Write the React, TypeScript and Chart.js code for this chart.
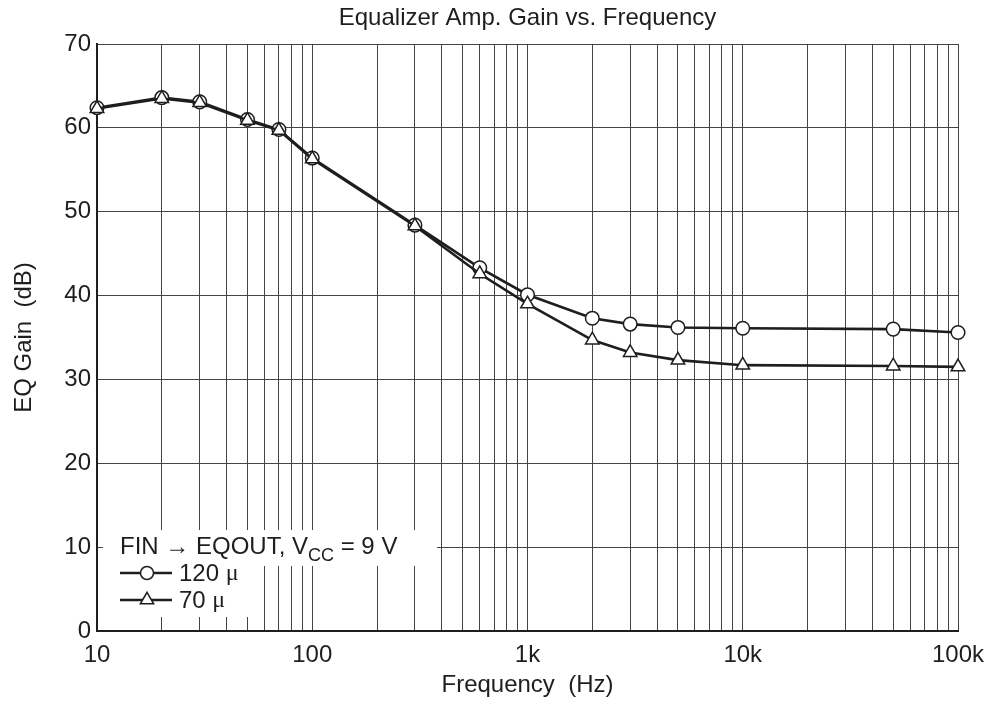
import React, { useEffect, useRef } from 'react';
import { Chart, registerables } from 'chart.js';

Chart.register(...registerables);

const chartTitle = 'Equalizer Amp. Gain vs. Frequency';
const xAxisTitle = 'Frequency  (Hz)';
const yAxisTitle = 'EQ Gain  (dB)';

const frequencies = [10, 20, 30, 50, 70, 100, 300, 600, 1000, 2000, 3000, 5000, 10000, 50000, 100000];
const gain120 = [62.4, 63.6, 63.1, 61.0, 59.8, 56.4, 48.4, 43.3, 40.1, 37.3, 36.6, 36.2, 36.1, 36.0, 35.6];
const gain70 = [62.3, 63.5, 63.0, 60.9, 59.7, 56.3, 48.3, 42.6, 39.0, 34.7, 33.2, 32.3, 31.7, 31.6, 31.5];

const decadeTicks = [10, 100, 1000, 10000, 100000];
const decadeLabels = ['10', '100', '1k', '10k', '100k'];
const minorMultipliers = [1, 2, 3, 4, 5, 6, 7, 8, 9];

const legendHeader = ['FIN \u2192 EQOUT, V', 'CC', ' = 9 V'];
const legendLabels = ['120 ', '70 '];

const FONT = '"Liberation Sans", Arial, sans-serif';
const INK = '#1e1e1e';
const GRID = '#444';

function buildXTicks(): number[] {
  const out: number[] = [];
  for (let d = 0; d < decadeTicks.length - 1; d++) {
    for (const m of minorMultipliers) out.push(decadeTicks[d] * m);
  }
  out.push(decadeTicks[decadeTicks.length - 1]);
  return out;
}

function drawCircle(ctx: CanvasRenderingContext2D, x: number, y: number, r: number) {
  ctx.beginPath();
  ctx.arc(x, y, r, 0, Math.PI * 2);
  ctx.fillStyle = '#fff';
  ctx.fill();
  ctx.lineWidth = 1.5;
  ctx.strokeStyle = INK;
  ctx.stroke();
}

function drawTriangle(ctx: CanvasRenderingContext2D, x: number, y: number, r: number) {
  ctx.beginPath();
  for (let i = 0; i < 3; i++) {
    const a = -Math.PI / 2 + (i * 2 * Math.PI) / 3;
    const px = x + Math.cos(a) * r;
    const py = y + Math.sin(a) * r;
    if (i === 0) ctx.moveTo(px, py);
    else ctx.lineTo(px, py);
  }
  ctx.closePath();
  ctx.fillStyle = '#fff';
  ctx.fill();
  ctx.lineWidth = 1.5;
  ctx.strokeStyle = INK;
  ctx.stroke();
}

const overlayPlugin = {
  id: 'overlay',
  afterDraw(chart: any) {
    const ctx: CanvasRenderingContext2D = chart.ctx;
    const area = chart.chartArea;
    ctx.save();
    // title
    ctx.fillStyle = INK;
    ctx.font = `24px ${FONT}`;
    ctx.textAlign = 'center';
    ctx.textBaseline = 'middle';
    ctx.fillText(chartTitle, (area.left + area.right) / 2, 18);

    // legend background
    ctx.fillStyle = '#fff';
    ctx.fillRect(area.left + 6, 530, 334, 36);
    ctx.fillRect(area.left + 6, 566, 160, 51);

    // header
    ctx.fillStyle = INK;
    ctx.textAlign = 'left';
    ctx.textBaseline = 'alphabetic';
    ctx.font = `24px ${FONT}`;
    let x = 120;
    ctx.fillText(legendHeader[0], x, 554);
    x += ctx.measureText(legendHeader[0]).width;
    ctx.font = `18px ${FONT}`;
    ctx.fillText(legendHeader[1], x, 561);
    x += ctx.measureText(legendHeader[1]).width;
    ctx.font = `24px ${FONT}`;
    ctx.fillText(legendHeader[2], x, 554);

    const rows = [573, 600];
    rows.forEach((ry, i) => {
      ctx.beginPath();
      ctx.moveTo(120, ry);
      ctx.lineTo(172, ry);
      ctx.lineWidth = 2.4;
      ctx.strokeStyle = INK;
      ctx.stroke();
      if (i === 0) drawCircle(ctx, 147, ry, 6.5);
      else drawTriangle(ctx, 147, ry, 7.7);
      ctx.fillStyle = INK;
      ctx.font = `24px ${FONT}`;
      ctx.textBaseline = 'middle';
      ctx.fillText(legendLabels[i], 179, ry + 1);
      const w = ctx.measureText(legendLabels[i]).width;
      ctx.font = `24px "Liberation Serif", serif`;
      ctx.fillText('\u03bc', 179 + w, ry + 1);
    });
    ctx.restore();
  },
};

export default function App() {
  const canvasRef = useRef<HTMLCanvasElement | null>(null);

  useEffect(() => {
    if (!canvasRef.current) return;
    const xTickValues = buildXTicks();
    const chart = new Chart(canvasRef.current, {
      type: 'line',
      data: {
        datasets: [
          {
            label: '120 μ',
            data: frequencies.map((f, i) => ({ x: f, y: gain120[i] })),
            borderColor: INK,
            borderWidth: 2.6,
            pointStyle: 'circle',
            pointRadius: 6.8,
            pointBorderWidth: 1.5,
            pointBackgroundColor: '#fff',
            pointBorderColor: INK,
            clip: false,
            order: 2,
          },
          {
            label: '70 μ',
            data: frequencies.map((f, i) => ({ x: f, y: gain70[i] })),
            borderColor: INK,
            borderWidth: 2.6,
            pointStyle: 'triangle',
            pointRadius: 7.8,
            pointBorderWidth: 1.5,
            pointBackgroundColor: '#fff',
            pointBorderColor: INK,
            clip: false,
            order: 1,
          },
        ],
      },
      options: {
        responsive: false,
        animation: false,
        layout: { padding: { top: 44, right: 32, left: 0, bottom: 0 } },
        plugins: {
          legend: { display: false },
          title: { display: false },
          tooltip: { enabled: false },
        },
        scales: {
          x: {
            type: 'logarithmic',
            min: 10,
            max: 100000,
            afterBuildTicks: (scale: any) => {
              scale.ticks = xTickValues.map((v) => ({ value: v }));
            },
            afterFit: (scale: any) => {
              scale.height = 73;
              scale.paddingLeft = 0;
              scale.paddingRight = 0;
            },
            ticks: {
              autoSkip: false,
              maxRotation: 0,
              padding: 10,
              color: INK,
              font: { family: FONT, size: 24 },
              callback: (v: any) => {
                const idx = decadeTicks.indexOf(Number(v));
                return idx >= 0 ? decadeLabels[idx] : '';
              },
            },
            grid: { color: GRID, lineWidth: 1, drawTicks: false },
            border: { color: INK, width: 2 },
            title: {
              display: true,
              text: xAxisTitle,
              color: INK,
              font: { family: FONT, size: 24 },
              padding: { top: 0, bottom: 4 },
            },
          },
          y: {
            type: 'linear',
            min: 0,
            max: 70,
            afterFit: (scale: any) => {
              scale.width = 97;
            },
            ticks: {
              stepSize: 10,
              padding: 6,
              color: INK,
              font: { family: FONT, size: 24 },
            },
            grid: { color: GRID, lineWidth: 1, drawTicks: false },
            border: { color: INK, width: 2 },
            title: {
              display: true,
              text: yAxisTitle,
              color: INK,
              font: { family: FONT, size: 24 },
              padding: { top: 10, bottom: 0 },
            },
          },
        },
      },
      plugins: [overlayPlugin],
    } as any);
    return () => chart.destroy();
  }, []);

  return (
    <div style={{ position: 'absolute', left: 0, top: 0, width: 990, height: 704, background: '#fff' }}>
      <canvas ref={canvasRef} width={990} height={704} />
    </div>
  );
}
